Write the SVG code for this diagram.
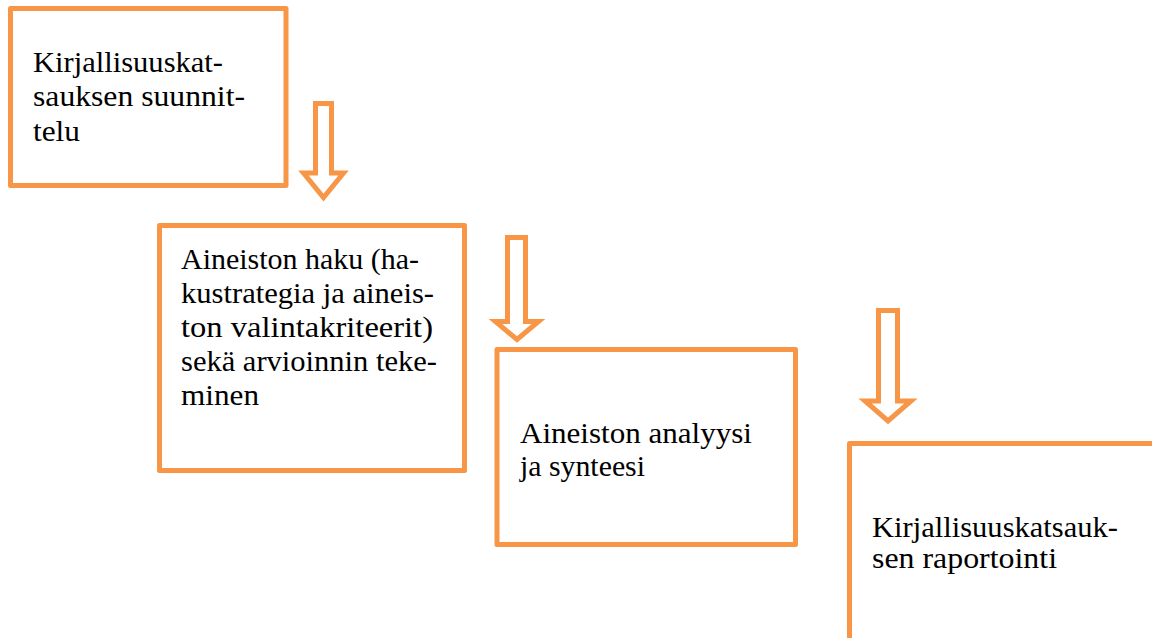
<svg xmlns="http://www.w3.org/2000/svg" width="1152" height="638" viewBox="0 0 1152 638">
<style>
.box{fill:#fff;stroke:#F79646;stroke-width:5;stroke-linejoin:round}
.arr{fill:#fff;stroke:#F79646;stroke-width:5;stroke-linejoin:miter}
.t{font-family:"Liberation Serif","Times New Roman",serif;font-size:30px;fill:#000}
</style>
<rect width="1152" height="638" fill="#fff"/>
<g id="node1">
<rect class="box" x="10.5" y="8.5" width="275.5" height="177"/>
<text class="t"><tspan x="33" y="72" textLength="190" lengthAdjust="spacingAndGlyphs">Kirjallisuuskat-</tspan></text>
<text class="t"><tspan x="33" y="106" textLength="212" lengthAdjust="spacingAndGlyphs">sauksen suunnit-</tspan></text>
<text class="t"><tspan x="33" y="140.5" textLength="47" lengthAdjust="spacingAndGlyphs">telu</tspan></text>
</g>
<g id="node2">
<rect class="box" x="159.5" y="225.5" width="305" height="245"/>
<text class="t"><tspan x="181" y="269" textLength="238" lengthAdjust="spacingAndGlyphs">Aineiston haku (ha-</tspan></text>
<text class="t"><tspan x="181" y="303" textLength="253" lengthAdjust="spacingAndGlyphs">kustrategia ja aineis-</tspan></text>
<text class="t"><tspan x="181" y="337" textLength="252" lengthAdjust="spacingAndGlyphs">ton valintakriteerit)</tspan></text>
<text class="t"><tspan x="181" y="370.5" textLength="256" lengthAdjust="spacingAndGlyphs">sekä arvioinnin teke-</tspan></text>
<text class="t"><tspan x="181" y="404.5" textLength="78" lengthAdjust="spacingAndGlyphs">minen</tspan></text>
</g>
<g id="node3">
<rect class="box" x="497" y="349.5" width="298.5" height="195"/>
<text class="t"><tspan x="520" y="443" textLength="232" lengthAdjust="spacingAndGlyphs">Aineiston analyysi</tspan></text>
<text class="t"><tspan x="520" y="476" textLength="125" lengthAdjust="spacingAndGlyphs">ja synteesi</tspan></text>
</g>
<g id="node4">
<rect class="box" x="849.5" y="443.5" width="400" height="197"/>
<text class="t"><tspan x="872" y="537" textLength="246" lengthAdjust="spacingAndGlyphs">Kirjallisuuskatsauk-</tspan></text>
<text class="t"><tspan x="872" y="567.5" textLength="185" lengthAdjust="spacingAndGlyphs">sen raportointi</tspan></text>
</g>
<g id="connectors">
<path class="arr" d="M315.5,103.5 H331.5 V173 H343.5 L323.5,197.5 L303.5,173 H315.5 Z"/>
<path class="arr" d="M507.5,237.5 H525.5 V321.5 H538.5 L517,339.5 L495.5,321.5 H507.5 Z"/>
<path class="arr" d="M878.5,310.5 H897.5 V401 H911 L888,421 L865,401 H878.5 Z"/>
</g>
</svg>
